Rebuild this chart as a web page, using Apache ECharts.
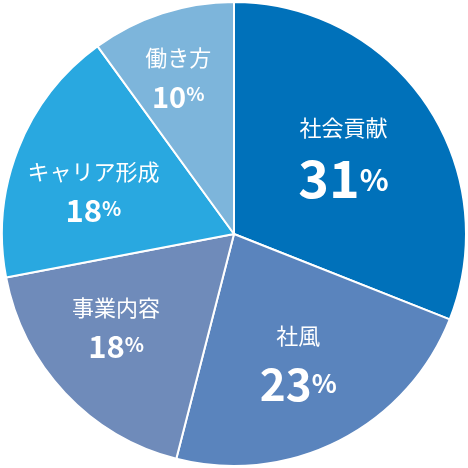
<!DOCTYPE html>
<html><head><meta charset="utf-8">
<script src="https://cdn.jsdelivr.net/npm/echarts@6/dist/echarts.min.js"></script>
<style>html,body{margin:0;padding:0;background:#fff}#c{width:468px;height:468px}</style>
</head><body><div id="c"></div>
<script>
var categories = ['社会貢献', '社風', '事業内容', 'キャリア形成', '働き方'];
var values = [31, 23, 18, 18, 10];
var unit = '%';

var colors = ['#0071ba', '#5a84bd', '#6f8bba', '#29a8e0', '#7db5db'];
var valueFont = [52, 44, 31, 31, 29];
var pctFont = [30, 26, 20, 20, 19];
var valueLine = [62, 56, 40, 40, 40];
var labelShift = [[-13, 8], [-3, -2], [-10, -8], [-3, 12], [-10, -16]];

var chart = echarts.init(document.getElementById('c'));
var font = '"Noto Sans CJK JP", "Noto Sans", sans-serif';

var fillData = categories.map(function (n, i) {
  return { name: n, value: values[i], itemStyle: { color: colors[i] } };
});
var labelData = categories.map(function (n, i) {
  var rich = {
    n: { fontSize: 22, color: '#fff', fontFamily: font, lineHeight: 28, fontWeight: 'normal' },
    v: { fontSize: valueFont[i], color: '#fff', fontFamily: font, fontWeight: 'bold', lineHeight: valueLine[i], verticalAlign: 'bottom' },
    p: { fontSize: pctFont[i], color: '#fff', fontFamily: font, fontWeight: 'bold', verticalAlign: 'bottom', padding: [0, 0, Math.round((valueLine[i] - valueFont[i]) / 2 + valueFont[i] * 0.08), 0] }
  };
  return { name: n, value: values[i], label: { rich: rich } };
});

chart.setOption({
  animation: false,
  series: [
    {
      type: 'pie',
      center: ['50%', '50%'],
      radius: [0, 232],
      startAngle: 90,
      clockwise: true,
      silent: true,
      label: { show: false },
      labelLine: { show: false },
      itemStyle: { borderColor: '#fff', borderWidth: 2 },
      data: fillData
    },
    {
      type: 'pie',
      center: ['50%', '50%'],
      radius: [58, 232],
      startAngle: 90,
      clockwise: true,
      silent: true,
      itemStyle: { color: 'rgba(0,0,0,0)', borderWidth: 0 },
      labelLine: { show: false },
      label: {
        show: true,
        position: 'inside',
        align: 'center',
        formatter: function (p) { return '{n|' + p.name + '}\n{v|' + p.value + '}{p|' + unit + '}'; }
      },
      labelLayout: function (p) {
        return { dx: labelShift[p.dataIndex][0], dy: labelShift[p.dataIndex][1] };
      },
      data: labelData
    }
  ]
});
</script></body></html>
